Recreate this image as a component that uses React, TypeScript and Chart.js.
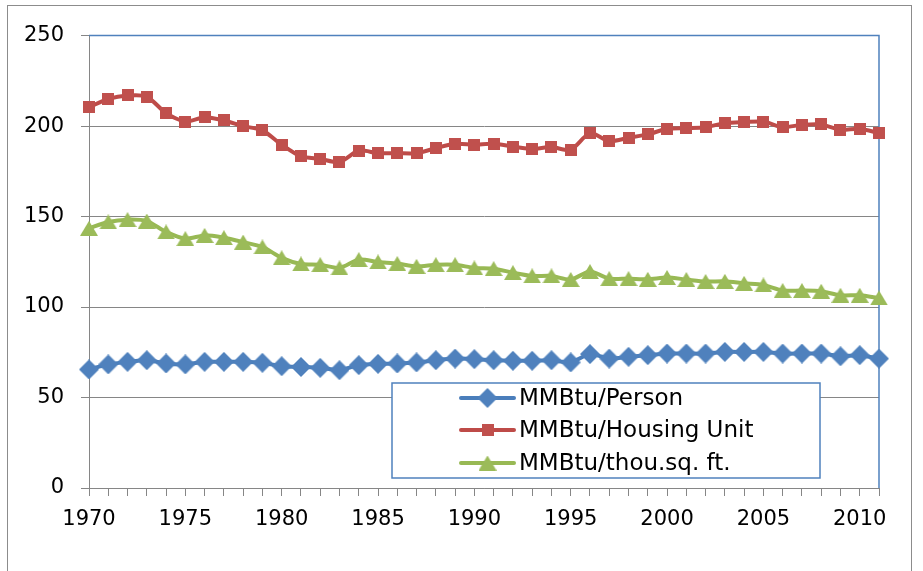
import React, { useEffect, useRef } from 'react';
import { Chart, registerables } from 'chart.js';

Chart.register(...registerables);

// ---- data ----
const years: string[] = [
  '1970', '1971', '1972', '1973', '1974', '1975', '1976', '1977', '1978', '1979',
  '1980', '1981', '1982', '1983', '1984', '1985', '1986', '1987', '1988', '1989',
  '1990', '1991', '1992', '1993', '1994', '1995', '1996', '1997', '1998', '1999',
  '2000', '2001', '2002', '2003', '2004', '2005', '2006', '2007', '2008', '2009',
  '2010', '2011',
];

const tickYears: string[] = ['1970', '1975', '1980', '1985', '1990', '1995', '2000', '2005', '2010'];

const perPerson: number[] = [
  65.5, 68.3, 69.7, 70.6, 68.8, 68.3, 69.7, 69.7, 69.7, 69.2,
  67.3, 66.9, 66.4, 65.1, 67.9, 68.6, 68.8, 69.4, 70.6, 71.5,
  71.2, 70.6, 70.3, 70.3, 70.6, 69.4, 74.0, 71.5, 72.5, 73.4,
  74.3, 74.3, 74.3, 75.2, 75.2, 75.2, 74.3, 74.3, 74.3, 72.8,
  73.4, 71.5,
];

const perHousingUnit: number[] = [
  210.4, 215.0, 216.9, 216.3, 207.1, 202.5, 204.9, 203.1, 200.0, 197.6,
  189.7, 183.2, 181.9, 180.1, 186.5, 185.0, 185.0, 185.0, 187.8, 190.2,
  189.8, 190.2, 188.7, 187.4, 188.4, 186.9, 196.1, 191.7, 193.5, 195.4,
  198.5, 198.9, 199.4, 201.6, 202.2, 202.5, 199.4, 200.7, 200.9, 198.0,
  198.5, 196.1,
];

const perThouSqFt: number[] = [
  143.5, 147.0, 148.3, 147.5, 141.5, 137.8, 139.6, 138.3, 135.9, 133.2,
  127.2, 123.8, 123.4, 121.6, 126.2, 124.9, 124.0, 122.5, 123.4, 123.4,
  121.6, 121.2, 119.0, 117.2, 117.2, 115.2, 119.6, 115.7, 115.7, 115.3,
  116.3, 115.2, 114.1, 114.2, 113.1, 112.2, 109.1, 109.1, 108.7, 106.5,
  106.5, 105.0,
];

const seriesNames: string[] = ['MMBtu/Person', 'MMBtu/Housing Unit', 'MMBtu/thou.sq. ft.'];
const lineColors: string[] = ['#4A7EBB', '#BE4B48', '#98B954'];
const markerColors: string[] = ['#4F81BD', '#C0504D', '#9BBB59'];

const yMin = 0;
const yMax = 250;
const yStep = 50;

// ---- styling ----
const gridColor = '#868686';
const frameColor = '#4F81BD';
const FONT = 'DejaVu Sans';

function makeMarker(kind: string, color: string): HTMLCanvasElement {
  const c = document.createElement('canvas');
  let w = 12, h = 12;
  if (kind === 'diamond') { w = 20; h = 20; }
  if (kind === 'triangle') { w = 18; h = 15; }
  c.width = w;
  c.height = h;
  const ctx = c.getContext('2d')!;
  ctx.fillStyle = color;
  ctx.beginPath();
  if (kind === 'diamond') {
    ctx.moveTo(w / 2, 0); ctx.lineTo(w, h / 2); ctx.lineTo(w / 2, h); ctx.lineTo(0, h / 2);
  } else if (kind === 'triangle') {
    ctx.moveTo(w / 2, 0); ctx.lineTo(w, h); ctx.lineTo(0, h);
  } else {
    ctx.rect(0, 0, w, h);
  }
  ctx.closePath();
  ctx.fill();
  return c;
}

export default function App() {
  const ref = useRef<HTMLCanvasElement | null>(null);

  useEffect(() => {
    if (!ref.current) return;
    const markers = [
      makeMarker('diamond', markerColors[0]),
      makeMarker('square', markerColors[1]),
      makeMarker('triangle', markerColors[2]),
    ];
    const seriesData = [perPerson, perHousingUnit, perThouSqFt];

    const framePlugin = {
      id: 'frame',
      beforeDatasetsDraw(chart: any) {
        const { ctx, chartArea } = chart;
        ctx.save();
        ctx.strokeStyle = frameColor;
        ctx.lineWidth = 1.5;
        ctx.beginPath();
        ctx.moveTo(chartArea.left, chartArea.top);
        ctx.lineTo(chartArea.right, chartArea.top);
        ctx.lineTo(chartArea.right, chartArea.bottom);
        ctx.stroke();
        ctx.restore();
      },
    };

    const legendPlugin = {
      id: 'boxLegend',
      afterDraw(chart: any) {
        const ctx = chart.ctx;
        const bx = 384, by = 377, bw = 428, bh = 95;
        ctx.save();
        ctx.fillStyle = '#ffffff';
        ctx.fillRect(bx, by, bw, bh);
        ctx.strokeStyle = frameColor;
        ctx.lineWidth = 1.5;
        ctx.strokeRect(bx, by, bw, bh);
        const rows = [392, 424, 457];
        for (let i = 0; i < 3; i++) {
          const y = rows[i];
          ctx.strokeStyle = lineColors[i];
          ctx.lineWidth = 4;
          ctx.lineCap = 'round';
          ctx.beginPath();
          ctx.moveTo(453, y);
          ctx.lineTo(506, y);
          ctx.stroke();
          const m = markers[i];
          ctx.drawImage(m, 479.5 - m.width / 2, y - m.height / 2);
          ctx.fillStyle = '#000';
          ctx.font = `23px "${FONT}"`;
          ctx.textBaseline = 'middle';
          ctx.textAlign = 'left';
          ctx.fillText(seriesNames[i], 511, y + 1);
        }
        ctx.restore();
      },
    };

    const chart = new Chart(ref.current, {
      type: 'line',
      data: {
        labels: years,
        datasets: seriesData.map((d, i) => ({
          label: seriesNames[i],
          data: d,
          borderColor: lineColors[i],
          backgroundColor: markerColors[i],
          borderWidth: 4,
          tension: 0.25,
          pointStyle: markers[i] as any,
          pointRadius: 9,
          pointBorderWidth: 0,
          clip: false as any,
          fill: false,
        })),
      },
      options: {
        animation: false,
        responsive: false,
        devicePixelRatio: 1,
        layout: { padding: { top: 29, right: 32, left: 0, bottom: 0 } },
        plugins: { legend: { display: false }, tooltip: { enabled: false } },
        scales: {
          x: {
            type: 'category',
            offset: false,
            grid: { display: true, drawOnChartArea: false, drawTicks: true, tickLength: 8, color: gridColor, lineWidth: 1 },
            border: { display: true, color: gridColor, width: 1 },
            ticks: {
              autoSkip: false,
              maxRotation: 0,
              minRotation: 0,
              padding: 11,
              color: '#000',
              font: { family: FONT, size: 21 },
              callback: (_v: any, i: number) => (tickYears.includes(years[i]) ? years[i] : ''),
            },
            afterFit: (s: any) => { s.height = 84; },
          },
          y: {
            min: yMin,
            max: yMax,
            grid: { color: gridColor, lineWidth: 1, tickLength: 8 },
            border: { display: true, color: gridColor, width: 1 },
            ticks: { stepSize: yStep, padding: 17, color: '#000', font: { family: FONT, size: 21 } },
            afterFit: (s: any) => { s.width = 81; },
          },
        },
      } as any,
      plugins: [framePlugin, legendPlugin],
    });
    return () => chart.destroy();
  }, []);

  return (
    <div
      style={{
        position: 'absolute',
        left: 7,
        top: 5,
        width: 905,
        height: 580,
        border: '1px solid #8c8c8c',
        boxSizing: 'border-box',
        background: '#fff',
      }}
    >
      <canvas ref={ref} width={903} height={566} style={{ display: 'block' }} />
    </div>
  );
}
